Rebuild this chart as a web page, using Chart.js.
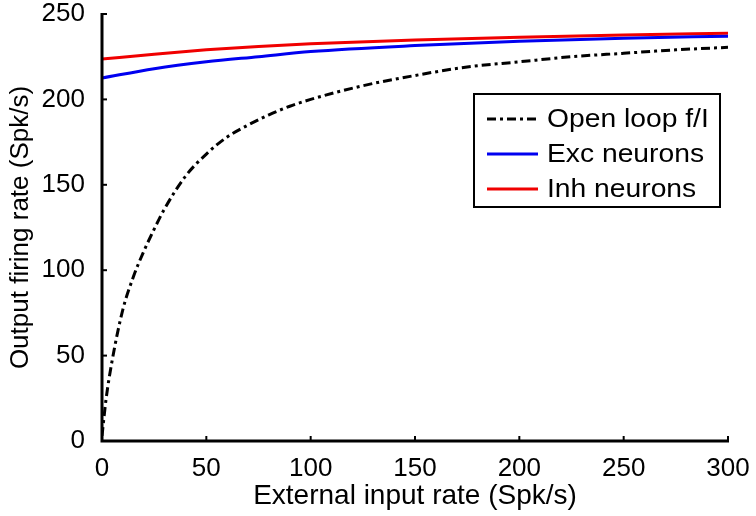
<!DOCTYPE html>
<html>
<head>
<meta charset="utf-8">
<script src="https://cdn.jsdelivr.net/npm/chart.js@4/dist/chart.umd.min.js"></script>
<style>
  html, body { margin: 0; padding: 0; background: #fff; }
  #wrap { width: 756px; height: 516px; position: relative; }
</style>
</head>
<body>
<div id="wrap"><canvas id="c" width="756" height="516"></canvas></div>
<script>
// values
const openX = [0, 2, 5, 10, 15, 20, 25, 30, 40, 50, 60, 70, 80, 90, 100, 125, 150, 175, 200, 225, 250, 275, 300];
const openY = [3, 25, 48, 77, 96, 111, 124, 136, 155, 168, 178, 185, 191, 196, 200, 208, 214, 219, 222, 225, 227, 229, 230.5];
const popX = [0, 25, 50, 75, 100, 150, 200, 250, 300];
const excY = [212.5, 218, 222, 225, 228, 231.5, 234, 235.8, 237];
const inhY = [223.6, 226.5, 229, 231, 232.6, 234.8, 236.4, 237.7, 238.8];
const xTicks = [0, 50, 100, 150, 200, 250, 300];
const yTicks = [0, 50, 100, 150, 200, 250];
const labels = ['Open loop f/I', 'Exc neurons', 'Inh neurons'];

const font = 'Liberation Sans, Arial, sans-serif';
const pts = (xs, ys) => xs.map((x, i) => ({ x, y: ys[i] }));

// inward ticks + boxed legend in the upper right
const axesPlugin = {
  id: 'axesPlugin',
  afterDatasetsDraw(chart) {
    const { ctx, chartArea: a, scales: { x, y } } = chart;
    ctx.save();
    ctx.strokeStyle = '#000'; ctx.lineWidth = 3;
    ctx.beginPath();
    ctx.moveTo(a.left, a.top - 1); ctx.lineTo(a.left, a.bottom); ctx.lineTo(a.right + 1, a.bottom);
    ctx.stroke();
    ctx.lineWidth = 2;
    xTicks.forEach(v => { const px = x.getPixelForValue(v); ctx.beginPath(); ctx.moveTo(px, a.bottom); ctx.lineTo(px, a.bottom - 5); ctx.stroke(); });
    yTicks.forEach(v => { const py = y.getPixelForValue(v); ctx.beginPath(); ctx.moveTo(a.left, py); ctx.lineTo(a.left + 5, py); ctx.stroke(); });

    // legend box
    const bx = 474, by = 94, bw = 246, bh = 113;
    ctx.fillStyle = '#fff'; ctx.fillRect(bx, by, bw, bh);
    ctx.lineWidth = 2; ctx.strokeRect(bx, by, bw, bh);
    ctx.font = '25px ' + font; ctx.textBaseline = 'middle'; ctx.fillStyle = '#000';
    chart.data.datasets.forEach((ds, i) => {
      const ly = 119 + i * 35;
      ctx.strokeStyle = ds.borderColor; ctx.lineWidth = ds.borderWidth;
      ctx.setLineDash(ds.borderDash || []);
      ctx.beginPath(); ctx.moveTo(487, ly); ctx.lineTo(538, ly); ctx.stroke();
      ctx.setLineDash([]);
      ctx.save();
      ctx.translate(547, ly + 1); ctx.scale(1.13, 1);
      ctx.fillText(ds.label, 0, 0);
      ctx.restore();
    });
    ctx.restore();
  }
};

new Chart(document.getElementById('c'), {
  type: 'line',
  data: {
    datasets: [
      { label: labels[0], data: pts(openX, openY), borderColor: '#000', borderWidth: 3, borderDash: [9, 4, 3, 4] },
      { label: labels[1], data: pts(popX, excY), borderColor: '#0000f0', borderWidth: 3 },
      { label: labels[2], data: pts(popX, inhY), borderColor: '#f00000', borderWidth: 3 }
    ]
  },
  options: {
    responsive: false,
    animation: false,
    layout: { padding: { left: 0, right: 28, top: 14, bottom: 0 } },
    elements: { point: { radius: 0 }, line: { cubicInterpolationMode: 'monotone', fill: false } },
    plugins: { legend: { display: false }, tooltip: { enabled: false } },
    scales: {
      x: {
        type: 'linear', min: 0, max: 300,
        afterBuildTicks: s => { s.ticks = xTicks.map(v => ({ value: v })); },
        afterFit: s => { s.height = 75; s.paddingLeft = 0; s.paddingRight = 0; },
        grid: { display: false }, border: { display: false },
        ticks: { color: '#000', font: { family: font, size: 26 }, padding: 4, maxRotation: 0 },
        title: { display: true, text: 'External input rate (Spk/s)', color: '#000', font: { family: font, size: 28 }, padding: { top: 0, bottom: 3 } }
      },
      y: {
        min: 0, max: 250,
        afterBuildTicks: s => { s.ticks = yTicks.map(v => ({ value: v })); },
        afterFit: s => { s.width = 102; s.paddingTop = 0; s.paddingBottom = 0; },
        grid: { display: false }, border: { display: false },
        ticks: { color: '#000', font: { family: font, size: 26 }, padding: 9 },
        title: { display: true, text: 'Output firing rate (Spk/s)', color: '#000', font: { family: font, size: 26 }, padding: { top: 5, bottom: 0 } }
      }
    }
  },
  plugins: [axesPlugin]
});
</script>
</body>
</html>
